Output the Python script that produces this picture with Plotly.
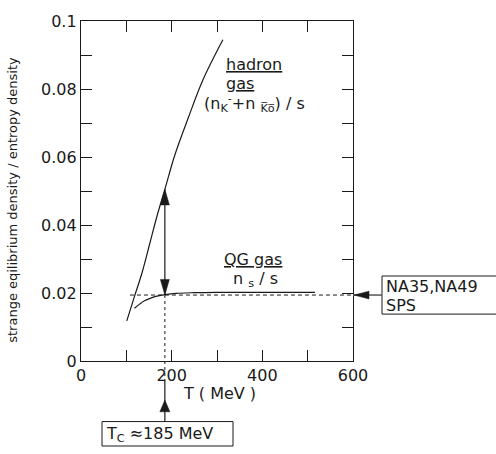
import plotly.graph_objects as go

# ---------------- data ----------------
hadron_T = [101, 118, 135, 152, 168, 185, 207, 236, 270, 313]
hadron_v = [0.0118, 0.0190, 0.0261, 0.0347, 0.0428, 0.0505, 0.0606, 0.0713, 0.0830, 0.0945]

qg_T = [118, 130, 140, 152, 165, 185, 210, 250, 300, 400, 516]
qg_v = [0.0155, 0.0168, 0.0177, 0.0184, 0.0190, 0.0195, 0.0199, 0.0201, 0.0202, 0.0202, 0.0202]

T_C = 185            # critical temperature (MeV)
SPS_LEVEL = 0.0194   # NA35/NA49 measured level
HADRON_AT_TC = 0.0505
DASH_START_T = 108

x_ticks = [0, 100, 200, 300, 400, 500, 600]
x_ticktext = ["0", "", "200", "", "400", "", "600"]
y_ticks = [0, 0.01, 0.02, 0.03, 0.04, 0.05, 0.06, 0.07, 0.08, 0.09, 0.1]
y_ticktext = ["0", "", "0.02", "", "0.04", "", "0.06", "", "0.08", "", "0.1"]

X_MAX, Y_MAX = 600, 0.1

# ---------------- geometry ----------------
W, H = 496, 454
ML, MR, MT, MB = 81, 143, 13, 93
PW, PH = W - ML - MR, H - MT - MB
FONT = "DejaVu Sans, Liberation Sans, Arial, sans-serif"
INK = "#1a1a1a"


def to_px(T, v):
    return ML + T / X_MAX * PW, MT + PH - v / Y_MAX * PH


def paper(px, py):
    return (px - ML) / PW, (MT + PH - py) / PH


def tri(tip_px, direction, length, half_w):
    tx, ty = tip_px
    dx, dy = direction
    bx, by = tx - dx * length, ty - dy * length
    px_, py_ = -dy, dx
    pts = [(tx, ty), (bx + px_ * half_w, by + py_ * half_w), (bx - px_ * half_w, by - py_ * half_w)]
    pp = [paper(*p) for p in pts]
    return "M{},{} L{},{} L{},{} Z".format(pp[0][0], pp[0][1], pp[1][0], pp[1][1], pp[2][0], pp[2][1])


fig = go.Figure()

fig.add_trace(go.Scatter(x=hadron_T, y=hadron_v, mode="lines",
                         line=dict(color=INK, width=1.2, shape="spline"), hoverinfo="skip"))
fig.add_trace(go.Scatter(x=qg_T, y=qg_v, mode="lines",
                         line=dict(color=INK, width=1.2, shape="spline"), hoverinfo="skip"))

shapes = []
# dashed horizontal at SPS level
x0p, yp = paper(*to_px(DASH_START_T, SPS_LEVEL))
shapes.append(dict(type="line", xref="paper", yref="paper", x0=x0p, x1=1, y0=yp, y1=yp,
                   line=dict(color=INK, width=1, dash="4px,3px")))
# vertical dashed at T_C from SPS level down below the axis
tcx, _ = to_px(T_C, 0)
xp, _ = paper(tcx, 0)
_, yb = paper(0, 381)
shapes.append(dict(type="line", xref="paper", yref="paper", x0=xp, x1=xp, y0=yp, y1=yb,
                   line=dict(color=INK, width=1, dash="3px,3px")))
# double arrow shaft
_, yh = paper(*to_px(T_C, HADRON_AT_TC))
shapes.append(dict(type="line", xref="paper", yref="paper", x0=xp, x1=xp, y0=yp, y1=yh,
                   line=dict(color=INK, width=1.2)))
# arrowheads of double arrow
shapes.append(dict(type="path", xref="paper", yref="paper",
                   path=tri(to_px(T_C, HADRON_AT_TC), (0, -1), 16, 4.5),
                   fillcolor=INK, line=dict(color=INK, width=0.5)))
shapes.append(dict(type="path", xref="paper", yref="paper",
                   path=tri(to_px(T_C, SPS_LEVEL), (0, 1), 16, 4.5),
                   fillcolor=INK, line=dict(color=INK, width=0.5)))

# right box + arrow to axis
spx, spy = to_px(X_MAX, SPS_LEVEL)
bx0, by0 = paper(382, 274)
bx1, by1 = paper(498, 313)
shapes.append(dict(type="rect", xref="paper", yref="paper", x0=bx0, x1=bx1, y0=by0, y1=by1,
                   line=dict(color=INK, width=1), fillcolor="white"))
ax0, ay0 = paper(382, spy)
shapes.append(dict(type="line", xref="paper", yref="paper", x0=ax0, x1=1.0, y0=ay0, y1=ay0,
                   line=dict(color="#555555", width=1.5)))
shapes.append(dict(type="path", xref="paper", yref="paper",
                   path=tri((spx + 1, spy), (-1, 0), 15, 4),
                   fillcolor=INK, line=dict(color=INK, width=0.5)))

# bottom box + arrow
cx0, cy0 = paper(102, 423)
cx1, cy1 = paper(233, 448)
shapes.append(dict(type="rect", xref="paper", yref="paper", x0=cx0, x1=cx1, y0=cy0, y1=cy1,
                   line=dict(color=INK, width=1), fillcolor="white"))
_, ly0 = paper(0, 423)
_, ly1 = paper(0, 381)
shapes.append(dict(type="line", xref="paper", yref="paper", x0=xp, x1=xp, y0=ly0, y1=ly1,
                   line=dict(color=INK, width=1.2)))
shapes.append(dict(type="path", xref="paper", yref="paper",
                   path=tri((tcx, 401), (0, -1), 12, 5),
                   fillcolor=INK, line=dict(color=INK, width=0.5)))

fig.update_layout(shapes=shapes)

annotations = []


def label(text, px, py, size=16, xanchor="left", angle=0):
    x, y = paper(px, py)
    annotations.append(dict(text=text, x=x, y=y, xref="paper", yref="paper", showarrow=False,
                            xanchor=xanchor, yanchor="middle", textangle=angle,
                            font=dict(family=FONT, size=size, color=INK)))


label("<u>hadron</u>", 224, 58)
label("<u>gas</u>", 224, 77)
label("(n<sub>K</sub><sup>-</sup>+n <sub>K\u0305o\u0305</sub>) / s", 202, 97)
label("<u>QG gas</u>", 222, 257)
label("n <sub>s</sub> / s", 231, 278)
label("NA35,NA49", 384, 285, size=16)
label("SPS", 384, 304, size=16)
label("T<sub>C</sub> \u2248185 MeV", 104, 436, size=16)
label("T ( MeV )", 219, 394, size=16, xanchor="center")
label("strange eqilibrium density / entropy density", 13, 196, size=13,
      xanchor="center", angle=-90)

fig.update_layout(annotations=annotations)

axis_common = dict(showline=True, linecolor=INK, linewidth=1.3, mirror="ticks", ticks="inside",
                   ticklen=11, tickwidth=1, tickcolor=INK, showgrid=False, zeroline=False,
                   tickfont=dict(family=FONT, size=16, color=INK))
fig.update_xaxes(range=[0, X_MAX], tickmode="array", tickvals=x_ticks, ticktext=x_ticktext, **axis_common)
fig.update_yaxes(range=[0, Y_MAX], tickmode="array", tickvals=y_ticks, ticktext=y_ticktext, **axis_common)

fig.update_layout(width=W, height=H, margin=dict(l=ML, r=MR, t=MT, b=MB),
                  plot_bgcolor="white", paper_bgcolor="white", showlegend=False,
                  font=dict(family=FONT, color=INK))

fig.write_html("out.html", config={"displayModeBar": False},
               post_script="document.body.style.margin='0';")
